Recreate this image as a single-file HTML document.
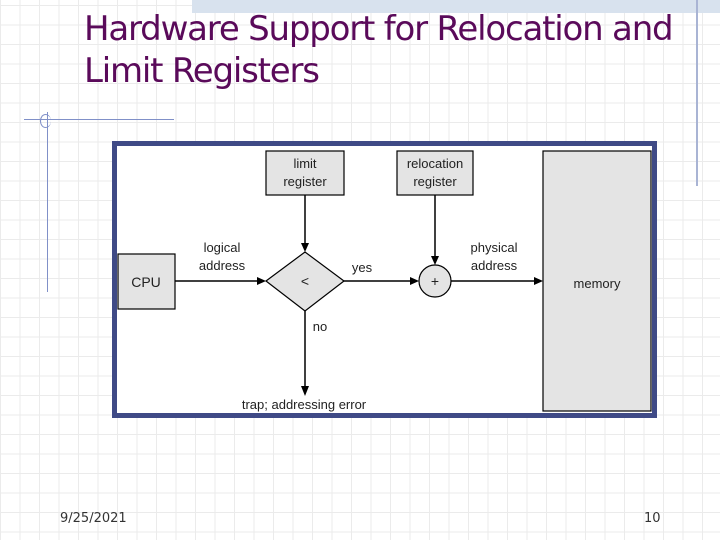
<!DOCTYPE html>
<html><head><style>
body{margin:0;width:720px;height:540px;overflow:hidden;position:relative;font-family:"Liberation Sans",sans-serif;
background-color:#fff;background-image:linear-gradient(#ebebeb 1px,transparent 1px),linear-gradient(90deg,#ebebeb 1px,transparent 1px);background-size:19.5px 19.5px;background-position:0 5px}
.t{position:absolute;left:84px;color:#5a0a5a;font-size:34px;line-height:42px;font-family:"DejaVu Sans","Liberation Sans",sans-serif;letter-spacing:-1.2px}
</style></head><body>
<div style="position:absolute;left:192px;top:0;width:528px;height:13px;background:#d8e2ee"></div>
<div style="position:absolute;left:696px;top:0;width:2px;height:186px;background:#a9b4d4"></div>
<div class="t" style="top:8px">Hardware Support for Relocation and</div>
<div class="t" style="top:50px">Limit Registers</div>
<div style="position:absolute;left:24px;top:119px;width:150px;height:1px;background:#8090c8"></div>
<div style="position:absolute;left:47px;top:112px;width:1px;height:180px;background:#8090c8"></div>
<div style="position:absolute;left:40px;top:114px;width:10px;height:12px;border:1px solid #8090c8;border-radius:50%;border-right:none"></div>
<svg style="position:absolute;left:0;top:0" width="720" height="540">
<rect x="114.5" y="143.5" width="540" height="272" fill="#fff" stroke="#3f4a86" stroke-width="5"/>
<g stroke="#000" stroke-width="1.2" fill="#e4e4e4">
<rect x="266" y="151" width="78" height="44"/>
<rect x="397" y="151" width="76" height="44"/>
<rect x="543" y="151" width="108" height="260"/>
<rect x="118" y="254" width="57" height="55"/>
<polygon points="266,281 305,252 344,281 305,311"/>
<circle cx="435" cy="281" r="16"/>
</g>
<g stroke="#000" stroke-width="1.5" fill="none">
<line x1="175" y1="281" x2="262" y2="281"/>
<line x1="344" y1="281" x2="415" y2="281"/>
<line x1="451" y1="281" x2="539" y2="281"/>
<line x1="305" y1="195" x2="305" y2="248"/>
<line x1="435" y1="195" x2="435" y2="261"/>
<line x1="305" y1="311" x2="305" y2="390"/>
</g>
<g fill="#000">
<polygon points="266,281 257,277 257,285"/>
<polygon points="419,281 410,277 410,285"/>
<polygon points="543,281 534,277 534,285"/>
<polygon points="305,252 301,243 309,243"/>
<polygon points="435,265 431,256 439,256"/>
<polygon points="305,396 301,386 309,386"/>
</g>
<g font-size="13" fill="#222" text-anchor="middle" font-family="Liberation Sans,sans-serif">
<text x="305" y="168">limit</text><text x="305" y="186">register</text>
<text x="435" y="168">relocation</text><text x="435" y="186">register</text>
<text x="146" y="287" font-size="14">CPU</text>
<text x="305" y="286" font-size="14">&lt;</text>
<text x="435" y="286" font-size="14">+</text>
<text x="222" y="252">logical</text><text x="222" y="270">address</text>
<text x="362" y="272">yes</text>
<text x="320" y="331">no</text>
<text x="494" y="252">physical</text><text x="494" y="270">address</text>
<text x="597" y="288">memory</text>
<text x="304" y="409">trap; addressing error</text>
</g>
<g font-size="13" fill="#333" font-family="DejaVu Sans,sans-serif">
<text x="60" y="522">9/25/2021</text><text x="644" y="522">10</text>
</g>
</svg>
</body></html>
